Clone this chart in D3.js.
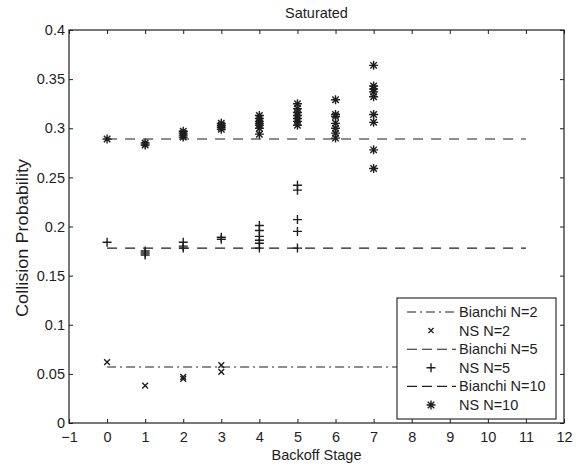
<!DOCTYPE html>
<html>
<head>
<meta charset="utf-8">
<script src="https://cdn.jsdelivr.net/npm/d3@7"></script>
<style>
  body { margin: 0; background: #fff; }
  text { font-family: "Liberation Sans", Arial, sans-serif; fill: #1e1e1e; }
</style>
</head>
<body>
<svg id="chart" width="580" height="470"></svg>
<script>
// analytic (Bianchi) collision probabilities, drawn flat over stages 0..11
var lineStages = [0, 11];
var bianchiN2 = 0.057;
var bianchiN5 = 0.178;
var bianchiN10 = 0.289;

// simulated (NS) values, one list per backoff stage 0..7
var nsN2 = [[0.062], [0.038], [0.045, 0.047], [0.059, 0.052]];
var nsN5 = [[0.184], [0.171, 0.173, 0.175], [0.184, 0.180, 0.178], [0.187, 0.189],
            [0.201, 0.196, 0.190, 0.186, 0.183, 0.178], [0.242, 0.237, 0.207, 0.195, 0.178]];
var nsN10 = [[0.289], [0.283, 0.285], [0.291, 0.293, 0.295, 0.297], [0.299, 0.301, 0.303, 0.305],
             [0.313, 0.310, 0.307, 0.305, 0.303, 0.300, 0.294],
             [0.325, 0.320, 0.316, 0.313, 0.310, 0.307, 0.303],
             [0.329, 0.314, 0.312, 0.305, 0.300, 0.295, 0.290],
             [0.364, 0.343, 0.340, 0.337, 0.332, 0.314, 0.306, 0.278, 0.259]];

var xTicks = d3.range(-1, 13);
var yTicks = [0, 0.05, 0.1, 0.15, 0.2, 0.25, 0.3, 0.35, 0.4];

var legendLabels = ["Bianchi N=2", "NS N=2", "Bianchi N=5", "NS N=5", "Bianchi N=10", "NS N=10"];

var ink = "#1e1e1e";
var svg = d3.select("#chart");
var pLeft = 69, pRight = 564, pTop = 30, pBottom = 423;

var x = d3.scaleLinear().domain([-1, 12]).range([pLeft, pRight]);
var y = d3.scaleLinear().domain([0, 0.4]).range([pBottom, pTop]);

// marker shapes as stroke paths
function markerPath(kind, s) {
    var h = s / 2, d = h * 0.72;
    if (kind === "x") return "M" + (-d) + "," + (-d) + "L" + d + "," + d + "M" + (-d) + "," + d + "L" + d + "," + (-d);
    if (kind === "+") return "M" + (-h) + ",0L" + h + ",0M0," + (-h) + "L0," + h;
    // asterisk = plus + times
    return "M" + (-h) + ",0L" + h + ",0M0," + (-h) + "L0," + h +
           "M" + (-d) + "," + (-d) + "L" + d + "," + d + "M" + (-d) + "," + d + "L" + d + "," + (-d);
}

// axes with inward ticks
var fmt = function(d) { return d === 0 ? "0" : String(+d.toFixed(2)); };
svg.append("g").attr("transform", "translate(0," + pBottom + ")")
    .call(d3.axisBottom(x).tickValues(xTicks).tickSizeInner(-4).tickSizeOuter(0).tickPadding(8.5));
svg.append("g").attr("transform", "translate(" + pLeft + ",0)")
    .call(d3.axisLeft(y).tickValues(yTicks).tickFormat(fmt).tickSizeInner(-4).tickSizeOuter(0).tickPadding(4));
svg.append("g").attr("transform", "translate(0," + pTop + ")")
    .call(d3.axisTop(x).tickValues(xTicks).tickFormat("").tickSizeInner(-4).tickSizeOuter(0));
svg.append("g").attr("transform", "translate(" + pRight + ",0)")
    .call(d3.axisRight(y).tickValues(yTicks).tickFormat("").tickSizeInner(-4).tickSizeOuter(0));

svg.selectAll(".domain").remove();
svg.selectAll(".tick line").attr("stroke", ink);
svg.selectAll(".tick text").attr("font-size", "14.5px").attr("fill", ink)
    .attr("font-family", "Liberation Sans, Arial, sans-serif");

svg.append("rect")
    .attr("x", pLeft).attr("y", pTop)
    .attr("width", pRight - pLeft).attr("height", pBottom - pTop)
    .attr("fill", "none").attr("stroke", ink).attr("stroke-width", 1.2);

// Bianchi lines
var lines = [
    { v: bianchiN2, dash: "9,4,2,4" },
    { v: bianchiN5, dash: "10,8" },
    { v: bianchiN10, dash: "10,8" }
];
lines.forEach(function(l) {
    svg.append("line")
        .attr("x1", x(lineStages[0])).attr("x2", x(lineStages[1]))
        .attr("y1", y(l.v)).attr("y2", y(l.v))
        .attr("stroke", ink).attr("stroke-width", 1.1)
        .attr("stroke-dasharray", l.dash);
});

// NS markers
function drawSeries(data, kind, size) {
    var pts = [];
    data.forEach(function(vals, stage) {
        vals.forEach(function(v) { pts.push([stage, v]); });
    });
    svg.append("g").selectAll("path").data(pts).enter().append("path")
        .attr("transform", function(d) { return "translate(" + x(d[0]) + "," + y(d[1]) + ")"; })
        .attr("d", markerPath(kind, size))
        .attr("fill", "none").attr("stroke", ink).attr("stroke-width", 1.4);
}
drawSeries(nsN2, "x", 8);
drawSeries(nsN5, "+", 9);
drawSeries(nsN10, "*", 9);

// title and axis labels
svg.append("text").attr("x", (pLeft + pRight) / 2).attr("y", 17.5)
    .attr("text-anchor", "middle").attr("font-size", "14.5px").text("Saturated");
svg.append("text").attr("x", (pLeft + pRight) / 2).attr("y", 460)
    .attr("text-anchor", "middle").attr("font-size", "14.5px").text("Backoff Stage");
svg.append("text")
    .attr("transform", "translate(28,238) rotate(-90)")
    .attr("text-anchor", "middle").attr("font-size", "16px")
    .attr("textLength", 158).attr("lengthAdjust", "spacingAndGlyphs")
    .text("Collision Probability");

// legend
var lg = svg.append("g");
lg.append("rect").attr("x", 397).attr("y", 298).attr("width", 159).attr("height", 121)
    .attr("fill", "#fff").attr("stroke", ink).attr("stroke-width", 1.1);
var kinds = [
    { line: "9,4,2,4" }, { marker: "x", size: 7 },
    { line: "10,5" }, { marker: "+", size: 9 },
    { line: "10,5" }, { marker: "*", size: 9 }
];
legendLabels.forEach(function(label, i) {
    var ry = 312 + i * 18.6;
    var k = kinds[i];
    if (k.line) {
        lg.append("line").attr("x1", 407).attr("x2", 456).attr("y1", ry).attr("y2", ry)
            .attr("stroke", ink).attr("stroke-width", 1.1).attr("stroke-dasharray", k.line);
    } else {
        lg.append("path").attr("transform", "translate(431," + ry + ")")
            .attr("d", markerPath(k.marker, k.size))
            .attr("fill", "none").attr("stroke", ink).attr("stroke-width", 1.4);
    }
    lg.append("text").attr("x", 459).attr("y", ry).attr("dy", "0.35em")
        .attr("font-size", "14.5px").text(label);
});
</script>
</body>
</html>
